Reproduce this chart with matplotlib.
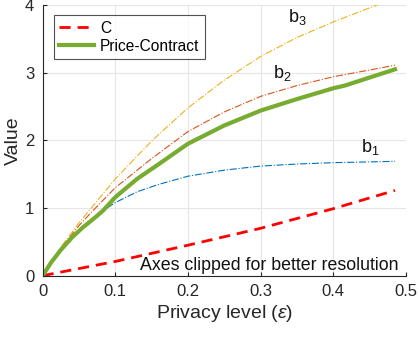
import matplotlib
matplotlib.use("Agg")
import matplotlib.pyplot as plt

plt.rcParams['font.family'] = ['Liberation Sans', 'DejaVu Sans']
plt.rcParams['mathtext.fontset'] = 'custom'
plt.rcParams['mathtext.rm'] = 'Liberation Sans'
plt.rcParams['mathtext.it'] = 'Liberation Sans:italic'

# Data
x_c = [0, 0.1, 0.2, 0.3, 0.4, 0.485]
c_vals = [0, 0.21, 0.45, 0.70, 0.99, 1.26]

x_pc = [0, 0.012, 0.025, 0.04, 0.055, 0.07, 0.083, 0.1, 0.13, 0.16, 0.2, 0.25, 0.3, 0.35, 0.4, 0.416, 0.485]
pc_vals = [0, 0.2, 0.38, 0.56, 0.71, 0.84, 0.96, 1.16, 1.43, 1.65, 1.95, 2.22, 2.44, 2.61, 2.77, 2.81, 3.05]

x_b1 = [0, 0.012, 0.025, 0.04, 0.055, 0.07, 0.083, 0.1, 0.13, 0.16, 0.2, 0.25, 0.3, 0.35, 0.4, 0.485]
b1_vals = [0, 0.2, 0.38, 0.56, 0.71, 0.84, 0.96, 1.08, 1.24, 1.35, 1.47, 1.56, 1.62, 1.65, 1.67, 1.69]

x_b2 = [0, 0.025, 0.05, 0.07, 0.1, 0.15, 0.2, 0.25, 0.3, 0.35, 0.4, 0.45, 0.485]
b2_vals = [0, 0.40, 0.74, 0.97, 1.30, 1.73, 2.13, 2.42, 2.65, 2.81, 2.94, 3.04, 3.11]

x_b3 = [0, 0.025, 0.05, 0.07, 0.1, 0.15, 0.2, 0.25, 0.3, 0.35, 0.4, 0.46, 0.485]
b3_vals = [0, 0.42, 0.78, 1.04, 1.43, 1.99, 2.48, 2.89, 3.24, 3.52, 3.75, 4.0, 4.1]

xticks = [0, 0.1, 0.2, 0.3, 0.4, 0.5]
yticks = [0, 1, 2, 3, 4]

fig = plt.figure(figsize=(4.18, 3.37), dpi=100)
ax = fig.add_axes([0.102, 0.182, 0.869, 0.803])

ax.plot(x_b3, b3_vals, color='#EDB120', lw=0.8, ls='-.')
ax.plot(x_b2, b2_vals, color='#D95319', lw=0.8, ls='-.')
ax.plot(x_b1, b1_vals, color='#0072BD', lw=0.8, ls='-.')
lc, = ax.plot(x_c, c_vals, color='#FF0000', lw=2, ls=(0, (4, 2.5)), label='C')
lp, = ax.plot(x_pc, pc_vals, color='#77AC30', lw=3, label='Price-Contract')

ax.set_xlim(0, 0.5)
ax.set_ylim(0, 4)
ax.set_xticks(xticks)
ax.set_xticklabels([f"{t:g}" for t in xticks])
ax.set_yticks(yticks)
ax.grid(True, color='#e6e6e6', lw=0.8)
ax.set_axisbelow(True)
for s in ['top', 'right']:
    ax.spines[s].set_visible(False)
for s in ['left', 'bottom']:
    ax.spines[s].set_color('#262626')
    ax.spines[s].set_linewidth(0.8)
ax.tick_params(labelsize=12, colors='#262626', direction='in', length=3, pad=6)

ax.set_xlabel(r'Privacy level ($\epsilon$)', fontsize=14, color='#262626', labelpad=3)
ax.set_ylabel('Value', fontsize=14, color='#262626', labelpad=2)

ax.text(0.338, 3.75, r'b$_3$', fontsize=13, color='#111111')
ax.text(0.317, 2.92, r'b$_2$', fontsize=13, color='#111111')
ax.text(0.438, 1.83, r'b$_1$', fontsize=13, color='#111111')
ax.text(0.49, 0.08, 'Axes clipped for better resolution', fontsize=12.8,
        ha='right', va='baseline', color='#111111')

leg = ax.legend(handles=[lc, lp], loc='upper left', bbox_to_anchor=(0.031, 0.963),
                fontsize=11.2, frameon=True, fancybox=False, edgecolor='#262626',
                handlelength=2.2, borderpad=0.35, labelspacing=0.2, handletextpad=0.4,
                borderaxespad=0)
leg.get_frame().set_linewidth(0.8)

fig.savefig('out.png', dpi=100)
